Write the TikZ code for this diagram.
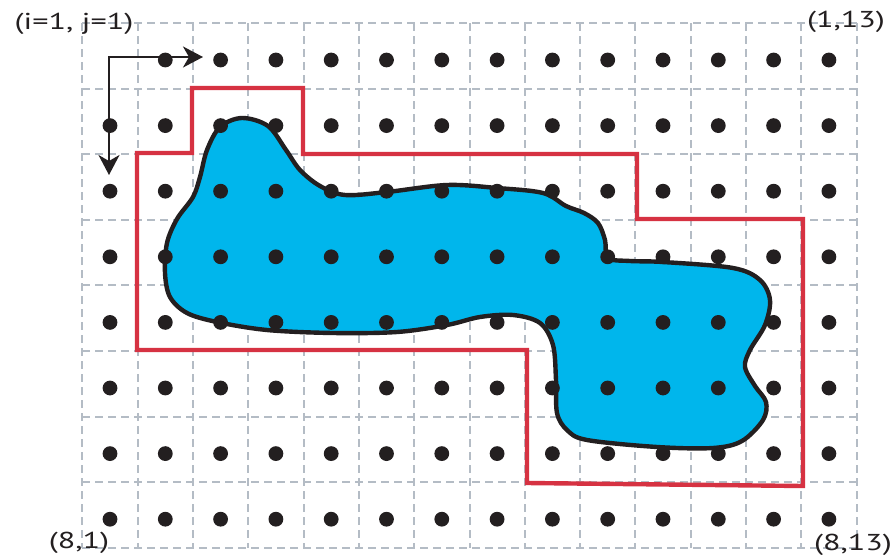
\documentclass[tikz,border=0pt]{standalone}
\usepackage{fontspec}
\setmainfont{PT Sans}
\newfontfamily\lblfont[FakeStretch=1.4]{PT Sans}
\usetikzlibrary{arrows.meta}

\definecolor{gridgray}{RGB}{180,188,197}
\definecolor{boxred}{RGB}{214,50,66}
\definecolor{blobcyan}{RGB}{0,182,236}
\definecolor{inkblack}{RGB}{35,31,32}

\tikzset{
  gridline/.style={gridgray, line width=1pt, dash pattern=on 4pt off 2.5pt},
  blob/.style={fill=blobcyan, draw=inkblack, line width=2.2pt},
  bbox/.style={boxred, line width=2.2pt, line join=miter},
  pixdot/.style={fill=inkblack},
  axis/.style={inkblack, line width=1.15pt,
    {Stealth[length=10pt,width=10.5pt,inset=3pt]}-{Stealth[length=10pt,width=10.5pt,inset=3pt]}},
  lbl/.style={inner sep=0pt, text=inkblack, font=\lblfont\fontsize{11.5}{13}\selectfont}
}

\begin{document}
\begin{tikzpicture}[x=0.5pt,y=-0.5pt]
  \useasboundingbox (0,0) rectangle (895,557);

  % dashed grid
  \foreach \k in {0,...,14}
    \draw[gridline] ({82.4+55.3*\k},23) -- ({82.4+55.3*\k},548);
  \foreach \k in {0,...,8}
    \draw[gridline] (82.4,{23+65.6*\k}) -- (856.6,{23+65.6*\k});

  % the region
  \draw[blob] plot[smooth cycle, tension=0.55] coordinates {
    (242,118) (268,126) (286,150) (300,170) (320,186) (345,195)
    (387,192) (447,185) (497,188) (543,193) (566,206) (584,213)
    (598,223) (605,240) (608,258) (630,261) (663,262) (733,268)
    (760,280) (770,300) (765,325) (750,350) (745,367) (755,386)
    (766,402) (763,420) (742,441) (713,448) (657,447) (587,440)
    (567,430) (557,413) (556,380) (553,345) (540,323) (513,315)
    (480,317) (447,325) (397,332) (333,333) (267,330) (217,322)
    (187,313) (170,297) (165,273) (167,243) (177,219) (193,197)
    (200,177) (207,150) (220,127)};

  % bounding outline
  \draw[bbox] (192,88) -- (303,88) -- (303,154) -- (637,154) -- (637,219)
    -- (803,219) -- (803,486) -- (527,483) -- (527,350) -- (137,350)
    -- (137,153) -- (192,153) -- cycle;

  % sample points
  \foreach \j in {2,...,14}
    \fill[pixdot] ({110+55.3*(\j-1)},60) circle (3.7pt);
  \foreach \i in {2,...,8}
    \foreach \j in {1,...,14}
      \fill[pixdot] ({110+55.3*(\j-1)},{60+65.6*(\i-1)}) circle (3.7pt);

  % index directions
  \coordinate (corner) at (109,57);
  \coordinate (jtip) at (203,57);
  \coordinate (itip) at (109,175);
  \draw[axis] (jtip) -- (corner) -- (itip);

  % corner labels
  \node[lbl] (first) at (74,24) {(i=1, j=1)};
  \node[lbl] (topright) at (846,22) {(1,13)};
  \node[lbl] (botleft) at (79,543) {(8,1)};
  \node[lbl] (botright) at (853,545) {(8,13)};
\end{tikzpicture}
\end{document}
